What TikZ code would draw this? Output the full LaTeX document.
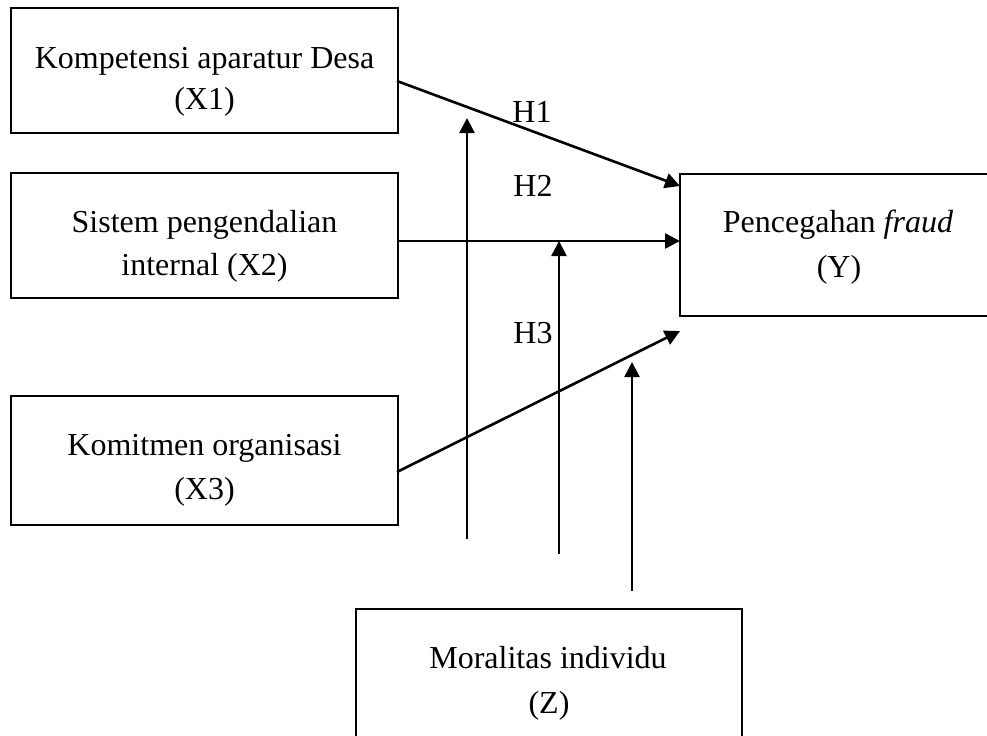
\documentclass[tikz,border=0pt]{standalone}
\usepackage{fontspec}
\setmainfont{Liberation Serif}
\usetikzlibrary{arrows.meta}
\begin{document}
\begin{tikzpicture}[x=0.5pt,y=-0.5pt,
  box/.style={draw=black,line width=1pt,rectangle,inner sep=0pt},
  txt/.style={inner sep=0pt,anchor=base,font=\fontsize{16}{20}\selectfont},
  conn/.style={line width=1.3pt,-{Triangle[length=7.5pt,width=7.5pt]}},
  plain/.style={line width=1.3pt}]
\useasboundingbox (0,0) rectangle (987,735);
\clip (0,0) rectangle (987,735);
% boxes
\node[box,minimum width=193.5pt,minimum height=62.5pt] (x1) at (204.5,70.5) {};
\node[box,minimum width=193.5pt,minimum height=62.5pt] (x2) at (204.5,235.5) {};
\node[box,minimum width=193.5pt,minimum height=64.5pt] (x3) at (204.5,460.5) {};
\node[box,minimum width=160pt,minimum height=71pt] (y) at (840,245) {};
\node[box,minimum width=193pt,minimum height=70pt] (z) at (549,679) {};
% texts
\node[txt] (x1a) at (204.5,68) {Kompetensi aparatur Desa};
\node[txt] (x1b) at (204.5,109) {(X1)};
\node[txt] (x2a) at (204.5,232) {Sistem pengendalian};
\node[txt] (x2b) at (204.5,275) {internal (X2)};
\node[txt] (x3a) at (204.5,455) {Komitmen organisasi};
\node[txt] (x3b) at (204.5,499) {(X3)};
\node[txt] (ya) at (838,232) {Pencegahan \textit{fraud}};
\node[txt] (yb) at (839,277) {(Y)};
\node[txt] (za) at (548,668) {Moralitas individu};
\node[txt] (zb) at (549,713) {(Z)};
% hypothesis labels
\node[txt] (h1) at (532,122) {H1};
\node[txt] (h2) at (533,196) {H2};
\node[txt] (h3) at (533,343) {H3};
% coordinates
\coordinate (x1o) at (397,81);
\coordinate (y1i) at (680,186);
\coordinate (x2o) at (397,241);
\coordinate (y2i) at (680,241);
\coordinate (x3o) at (397,472);
\coordinate (y3i) at (680,331);
\coordinate (m1s) at (467,539);
\coordinate (m1e) at (467,118);
\coordinate (m2s) at (559,554);
\coordinate (m2e) at (559,241);
\coordinate (m3s) at (632,591);
\coordinate (m3e) at (632,362);
% connectors
\draw[conn] (x1o) -- (y1i);
\draw[conn] (x2o) -- (y2i);
\draw[conn] (x3o) -- (y3i);
\draw[conn] (m1s) -- (m1e);
\draw[conn] (m2s) -- (m2e);
\draw[conn] (m3s) -- (m3e);
\end{tikzpicture}
\end{document}
